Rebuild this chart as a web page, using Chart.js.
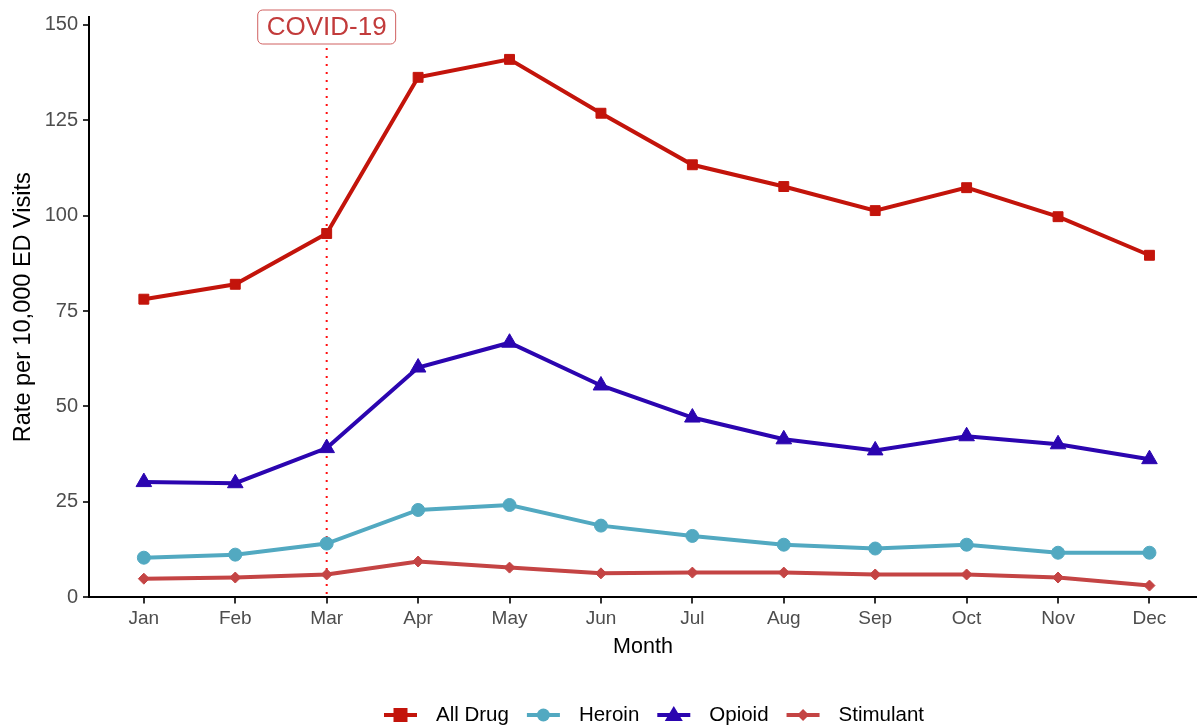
<!DOCTYPE html>
<html>
<head>
<meta charset="utf-8">
<script src="https://cdn.jsdelivr.net/npm/chart.js@4.4.1/dist/chart.umd.min.js"></script>
<style>
  html, body { margin: 0; padding: 0; background: #fff; overflow: hidden; }
  canvas { display: block; }
</style>
</head>
<body>
<canvas id="rates" width="1197" height="727"></canvas>
<script>
var months = ["Jan", "Feb", "Mar", "Apr", "May", "Jun", "Jul", "Aug", "Sep", "Oct", "Nov", "Dec"]
var allDrug = [78.1, 82.0, 95.3, 136.2, 140.9, 126.8, 113.3, 107.6, 101.3, 107.3, 99.7, 89.6]
var heroin = [10.4, 11.2, 14.1, 22.9, 24.2, 18.8, 16.1, 13.8, 12.8, 13.8, 11.7, 11.7]
var opioid = [30.2, 29.9, 39.1, 60.2, 66.7, 55.5, 47.1, 41.4, 38.5, 42.2, 40.1, 36.2]
var stimulant = [4.9, 5.2, 6.0, 9.4, 7.8, 6.3, 6.5, 6.5, 6.0, 6.0, 5.2, 3.1]
var yTicks = [0, 25, 50, 75, 100, 125, 150]
var covidMonth = 2 // Mar

var RED = "#C3140B"
var TEAL = "#52A9C1"
var PURPLE = "#2B05B0"
var BRICK = "#C44444"

var FONT = "'Liberation Sans', Arial, sans-serif"

function pts(arr) {
  return arr.map(function (v, i) { return { x: i, y: v } })
}

function series(label, arr, color, style, radius) {
  return {
    label: label,
    data: pts(arr),
    borderColor: color,
    backgroundColor: color,
    borderWidth: 4,
    pointStyle: style,
    pointRadius: radius,
    pointBorderWidth: 1,
    tension: 0
  }
}

// dotted COVID-19 marker + boxed label
var covidLine = {
  id: "covidLine",
  beforeDatasetsDraw: function (chart) {
    var ctx = chart.ctx
    var x = chart.scales.x.getPixelForValue(covidMonth)
    var bottom = chart.chartArea.bottom
    ctx.save()
    ctx.strokeStyle = "#FF1010"
    ctx.lineWidth = 2
    ctx.setLineDash([2, 6])
    ctx.beginPath()
    ctx.moveTo(x, 48)
    ctx.lineTo(x, bottom)
    ctx.stroke()
    ctx.setLineDash([])

    ctx.font = "26px " + FONT
    var w = ctx.measureText("COVID-19").width + 18
    var h = 34, top = 10, r = 5
    var l = x - w / 2
    ctx.fillStyle = "#fff"
    ctx.strokeStyle = "#D06060"
    ctx.lineWidth = 1
    ctx.beginPath()
    ctx.roundRect(l, top, w, h, r)
    ctx.fill()
    ctx.stroke()
    ctx.fillStyle = "#C23B3B"
    ctx.textAlign = "center"
    ctx.textBaseline = "middle"
    ctx.fillText("COVID-19", x, top + h / 2 + 1)
    ctx.restore()
  }
}

function marker(ctx, style, cx, cy, color) {
  ctx.fillStyle = color
  ctx.beginPath()
  if (style === "rect") {
    ctx.rect(cx - 7, cy - 7, 14, 14)
  } else if (style === "circle") {
    ctx.arc(cx, cy, 6.5, 0, Math.PI * 2)
  } else if (style === "triangle") {
    ctx.moveTo(cx, cy - 9)
    ctx.lineTo(cx + 9, cy + 6)
    ctx.lineTo(cx - 9, cy + 6)
    ctx.closePath()
  } else {
    ctx.moveTo(cx, cy - 6)
    ctx.lineTo(cx + 6, cy)
    ctx.lineTo(cx, cy + 6)
    ctx.lineTo(cx - 6, cy)
    ctx.closePath()
  }
  ctx.fill()
}

// ggplot-like legend: line + marker + text
var bottomLegend = {
  id: "bottomLegend",
  afterDraw: function (chart) {
    var ctx = chart.ctx
    var y = 715
    ctx.save()
    ctx.font = "20.5px " + FONT
    ctx.textBaseline = "middle"
    ctx.textAlign = "left"
    var items = chart.data.datasets
    var keyW = 33, gapKey = 19, gapItem = 18
    var total = 0
    items.forEach(function (d, i) {
      total += keyW + gapKey + ctx.measureText(d.label).width
      if (i < items.length - 1) total += gapItem
    })
    var area = chart.chartArea
    var x = (area.left + area.right) / 2 - total / 2 + 11
    items.forEach(function (d) {
      ctx.strokeStyle = d.borderColor
      ctx.lineWidth = 4
      ctx.beginPath()
      ctx.moveTo(x, y)
      ctx.lineTo(x + keyW, y)
      ctx.stroke()
      marker(ctx, d.pointStyle, x + keyW / 2, y, d.borderColor)
      x += keyW + gapKey
      ctx.fillStyle = "#000"
      ctx.fillText(d.label, x, y)
      x += ctx.measureText(d.label).width + gapItem
    })
    ctx.restore()
  }
}

var ctx = document.getElementById("rates")
var chart = new Chart(ctx, {
  type: "line",
  data: {
    datasets: [
      series("All Drug", allDrug, RED, "rect", 7),
      series("Heroin", heroin, TEAL, "circle", 6.5),
      series("Opioid", opioid, PURPLE, "triangle", 9),
      series("Stimulant", stimulant, BRICK, "rectRot", 5.5)
    ]
  },
  options: {
    responsive: false,
    animation: false,
    layout: { autoPadding: false, padding: { top: 13, right: 0, bottom: 67, left: 0 } },
    plugins: {
      legend: { display: false },
      tooltip: { enabled: false }
    },
    scales: {
      x: {
        type: "linear",
        min: -0.6,
        max: 11.52,
        afterBuildTicks: function (scale) {
          scale.ticks = months.map(function (m, i) { return { value: i } })
        },
        afterFit: function (scale) {
          scale.paddingLeft = 0
          scale.paddingRight = 0
        },
        ticks: {
          autoSkip: false,
          maxRotation: 0,
          color: "#4D4D4D",
          font: { family: FONT, size: 19 },
          padding: 4,
          callback: function (v) { return months[v] }
        },
        grid: { drawOnChartArea: false, drawTicks: true, tickLength: 6, color: "#333", lineWidth: 2 },
        border: { display: true, color: "#000", width: 2 },
        title: {
          display: true,
          text: "Month",
          color: "#000",
          font: { family: FONT, size: 21.5 },
          padding: { top: 0, bottom: 0 }
        }
      },
      y: {
        min: 0,
        max: 152,
        afterBuildTicks: function (scale) {
          scale.ticks = yTicks.map(function (v) { return { value: v } })
        },
        afterFit: function (scale) { scale.width = 89 },
        ticks: {
          color: "#4D4D4D",
          font: { family: FONT, size: 20 },
          padding: 5
        },
        grid: { drawOnChartArea: false, drawTicks: true, tickLength: 6, color: "#333", lineWidth: 2 },
        border: { display: true, color: "#000", width: 2 },
        title: {
          display: true,
          text: "Rate per 10,000 ED Visits",
          color: "#000",
          font: { family: FONT, size: 23.5 },
          padding: { top: 9, bottom: 4 }
        }
      }
    }
  },
  plugins: [covidLine, bottomLegend]
})
</script>
</body>
</html>
